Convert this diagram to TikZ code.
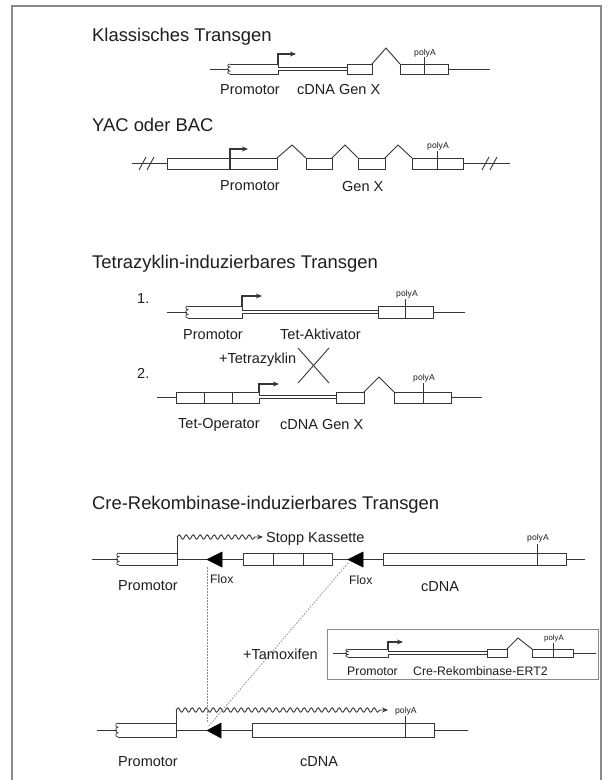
\documentclass[tikz,border=0pt]{standalone}
\usepackage{fontspec}
\setmainfont{Liberation Sans}
\usetikzlibrary{arrows.meta,decorations.pathmorphing}
\definecolor{ink}{HTML}{363636}
\definecolor{txt}{HTML}{1E1E1E}
\definecolor{frm}{HTML}{8A8A8A}
\newcommand\fTitle{\fontsize{18.4}{20}\selectfont}
\newcommand\fLab{\fontsize{14.5}{16}\selectfont}
\newcommand\fSm{\fontsize{12.3}{14}\selectfont}
\newcommand\fPA{\fontsize{8.6}{10}\selectfont}
\newcommand\promoter[4]{%
  \pgfmathsetmacro\pa{#3+0.3*(#4-#3)}%
  \pgfmathsetmacro\pb{#3+0.5*(#4-#3)}%
  \pgfmathsetmacro\pc{#3+0.7*(#4-#3)}%
  \draw[dna] (#1,#3) -- (#2,#3) -- (#2,#4) -- (#1,#4);
  \draw[dna,line width=0.7pt] (#1,#3) .. controls (#1-3,#3) and (#1-3,\pa) .. (#1,\pa)
     .. controls (#1-3,\pa) and (#1-3,\pc) .. (#1,\pc)
     .. controls (#1-3,\pc) and (#1-3,#4) .. (#1,#4);}
\tikzset{
  dna/.style={draw=ink,line width=0.9pt},
  dbl/.style={draw=ink,line width=0.8pt,double=white,double distance=2.4pt},
  parr/.style={draw=ink,line width=1.3pt,-{Stealth[length=6pt,width=5pt]}},
  wavy/.style={draw=ink,line width=0.9pt,decorate,decoration={snake,amplitude=2.2pt,segment length=7pt,post length=6pt},-{Stealth[length=6pt,width=5pt]}},
  ttl/.style={anchor=base west,inner sep=0pt,text=txt,font=\fTitle},
  lab/.style={anchor=base west,inner sep=0pt,text=txt,font=\fLab},
  sml/.style={anchor=base west,inner sep=0pt,text=txt,font=\fSm},
  pa/.style={anchor=base,inner sep=0pt,text=txt,font=\fPA},
  dots/.style={draw=black!45,line width=0.8pt,dash pattern=on 1.5pt off 1.5pt},
  flox/.style={fill=black,draw=black,line width=0.5pt}
}
\begin{document}
\begin{tikzpicture}[x=1pt,y=-1pt]
\useasboundingbox (0,0) rectangle (613,780);
\fill[white] (0,0) rectangle (613,780);
% frame
\draw[frm,line width=1.3pt] (12,781) -- (12,6) -- (601,6) -- (601,781);

% ---------- Klassisches Transgen ----------
\node[ttl] (t1) at (92,41) {Klassisches Transgen};
\draw[dna] (210,69) -- (229,69);
\promoter{230}{278}{64}{74}
\draw[parr] (278,64) -- (278,54) -- (296,54);
\draw[dbl] (278,69) -- (347,69);
\draw[dna] (347,64) rectangle (372,74);
\draw[dna] (372,64) -- (386,48) -- (400,64);
\draw[dna] (400,64) rectangle (448,74);
\draw[dna] (424,74) -- (424,57);
\node[pa] (pa1) at (425,55) {polyA};
\draw[dna] (448,69) -- (490,69);
\node[lab] (l1a) at (220,94) {Promotor};
\node[lab] (l1b) at (297,94) {cDNA Gen X};

% ---------- YAC oder BAC ----------
\node[ttl] (t2) at (92,131) {YAC oder BAC};
\draw[dna] (132,163.5) -- (167,163.5);
\draw[dna] (139,170) -- (146,157);
\draw[dna] (147,170) -- (154,157);
\draw[dna] (167,158) rectangle (277,169);
\draw[parr] (230,169) -- (230,149) -- (248,149);
\draw[dna] (277,158) -- (292,145) -- (306,158);
\draw[dna] (306,158) rectangle (332,169);
\draw[dna] (332,158) -- (345,145) -- (358,158);
\draw[dna] (358,158) rectangle (385,169);
\draw[dna] (385,158) -- (398,145) -- (412,158);
\draw[dna] (412,158) rectangle (463,169);
\draw[dna] (437,169) -- (437,151);
\node[pa] (pa2) at (438,148) {polyA};
\draw[dna] (463,163.5) -- (510,163.5);
\draw[dna] (482,170) -- (489,157);
\draw[dna] (490,170) -- (497,157);
\node[lab] (l2a) at (220,190) {Promotor};
\node[lab] (l2b) at (342,191) {Gen X};

% ---------- Tetrazyklin ----------
\node[ttl] (t3) at (92,268) {Tetrazyklin-induzierbares Transgen};
\node[lab] (n1) at (137,303) {1.};
\draw[dna] (167,312) -- (187,312);
\promoter{188}{242}{306}{318}
\draw[parr] (242,306) -- (242,296) -- (262,296);
\draw[dbl] (242,312) -- (378,312);
\draw[dna] (378,306) rectangle (433,318);
\draw[dna] (405,318) -- (405,299);
\node[pa] (pa3) at (407,296) {polyA};
\draw[dna] (433,312) -- (465,312);
\node[lab] (l3a) at (183,339) {Promotor};
\node[lab] (l3b) at (280,339) {Tet-Aktivator};
\node[lab] (tz) at (219,363) {+Tetrazyklin};
\draw[ink,line width=0.9pt] (298,348) -- (329,383);
\draw[ink,line width=0.9pt] (329,348) -- (298,383);
\node[lab] (n2) at (137,378) {2.};
\draw[dna] (157,397.5) -- (176,397.5);
\draw[dna] (176,392) rectangle (259,403);
\draw[dna] (204,392) -- (204,403);
\draw[dna] (232,392) -- (232,403);
\draw[parr] (259,392) -- (259,384) -- (279,384);
\draw[dbl] (259,397) -- (336,397);
\draw[dna] (336,392) rectangle (364,403);
\draw[dna] (364,392) -- (379,377) -- (394,392);
\draw[dna] (394,392) rectangle (451,403);
\draw[dna] (423,403) -- (423,383);
\node[pa] (pa4) at (424,380) {polyA};
\draw[dna] (451,397.5) -- (482,397.5);
\node[lab] (l4a) at (178,428) {Tet-Operator};
\node[lab] (l4b) at (280,429) {cDNA Gen X};

% ---------- Cre ----------
\node[ttl] (t4) at (92,509) {Cre-Rekombinase-induzierbares Transgen};
\draw[dna] (92,559) -- (118,559);
\promoter{119}{177}{553}{565}
\draw[dna] (177,553) -- (177,537);
\draw[wavy] (177,537) -- (263,537);
\node[lab] (sk) at (266,542) {Stopp Kassette};
\draw[dna] (177,559) -- (243,559);
\coordinate (f1) at (207,559.5);
\fill[flox] (f1) -- (222,552) -- (222,567) -- cycle;
\draw[dna] (243,553) rectangle (332,565);
\draw[dna] (273,553) -- (273,565);
\draw[dna] (303,553) -- (303,565);
\draw[dna] (332,559) -- (383,559);
\coordinate (f2) at (348,559.5);
\fill[flox] (f2) -- (363,552) -- (363,567) -- cycle;
\draw[dna] (383,553) rectangle (566,565);
\draw[dna] (537,565) -- (537,544);
\node[pa] (pa5) at (538,540) {polyA};
\draw[dna] (566,559) -- (585,559);
\node[sml] (fx1) at (210,583) {Flox};
\node[sml] (fx2) at (349,584) {Flox};
\node[lab] (l5a) at (118,590) {Promotor};
\node[lab] (l5b) at (421,591) {cDNA};

\node[lab] (tam) at (243,659) {+Tamoxifen};

% inset
\draw[frm,line width=0.9pt] (327,629) rectangle (598,679);
\draw[dna] (333,653) -- (347,653);
\promoter{348}{388}{649}{657}
\draw[parr] (388,649) -- (388,642) -- (403,642);
\draw[dbl] (388,653) -- (487,653);
\draw[dna] (487,649) rectangle (507,657);
\draw[dna] (507,649) -- (518,638) -- (532,649);
\draw[dna] (532,649) rectangle (573,657);
\draw[dna] (553,657) -- (553,643);
\node[pa,font=\fontsize{7.8}{9}\selectfont] (pa6) at (554,640.5) {polyA};
\draw[dna] (573,653) -- (596,653);
\node[sml] (l6a) at (347,675) {Promotor};
\node[sml] (l6b) at (413,675) {Cre-Rekombinase-ERT2};

% lower row
\draw[dna] (97,730) -- (117,730);
\promoter{118}{176}{723}{737}
\draw[dna] (176,723) -- (176,710);
\draw[wavy] (176,710) -- (388,710);
\node[pa,anchor=base west] (pa7) at (395,713) {polyA};
\draw[dna] (176,730) -- (252,730);
\coordinate (f3) at (207,730.5);
\fill[flox] (f3) -- (221,723) -- (221,738) -- cycle;
\draw[dna] (252,723) rectangle (434,737);
\draw[dna] (405,737) -- (405,716);
\draw[dna] (434,730) -- (468,730);
\node[lab] (l7a) at (118,766) {Promotor};
\node[lab] (l7b) at (300,766) {cDNA};

% dotted recombination lines
\draw[dots] (207,567) -- (207,723);
\draw[dots] (348,563) -- (208,727);
\end{tikzpicture}
\end{document}
